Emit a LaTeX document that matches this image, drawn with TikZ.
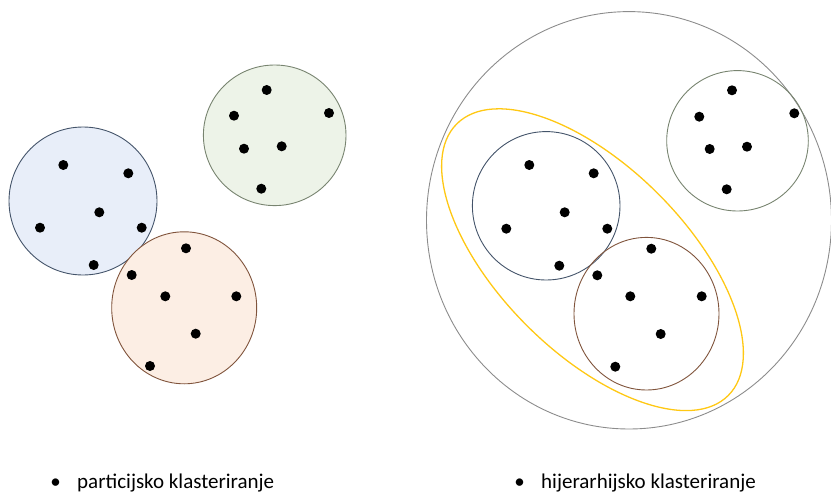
\documentclass[tikz,border=0pt]{standalone}
\usepackage{fontspec}
\setmainfont{Carlito}
\usepackage{tikz}
\usetikzlibrary{positioning}
\definecolor{clublue}{RGB}{68, 84, 106}
\definecolor{clubluefill}{RGB}{232, 238, 249}
\definecolor{clugreen}{RGB}{120, 132, 112}
\definecolor{clugreenfill}{RGB}{237, 243, 232}
\definecolor{clubrown}{RGB}{128, 84, 60}
\definecolor{clubrownfill}{RGB}{252, 238, 228}
\definecolor{clugray}{RGB}{140, 140, 140}
\definecolor{cluyellow}{RGB}{255, 200, 20}

\tikzset{
    cluster/.style={line width=0.9pt},
    dot/.style={fill=black},
    label/.style={font=\fontsize{21}{24}\selectfont, inner sep=0pt}
}

\begin{document}
\begin{tikzpicture}[x=1pt, y=-1pt]
    \useasboundingbox (0,0) rectangle (831,495);

    % Particijsko: three separate clusters
    \draw[cluster, draw=clublue, fill=clubluefill] (83,201) circle [x radius=74, y radius=74];
    \draw[cluster, draw=clugreen, fill=clugreenfill] (274.7,135.3) circle [x radius=71.3, y radius=70.3];
    \draw[cluster, draw=clubrown, fill=clubrownfill] (184.2,307.8) circle [x radius=72.5, y radius=76];

    \foreach \p in {(63.3,165), (128.3,173.3), (99.3,212.3), (40,227.7), (141.7,227.7), (93.7,265),
                    (266.7,90), (234,115.7), (329,113), (244,148.7), (281.7,146.3), (261.3,188.7),
                    (186,248.3), (131.7,275), (165.3,296.3), (236.3,296.3), (195.7,333.7), (150,366)} {
        \fill[dot] \p circle (5);
    }

    % Hijerarhijsko: nested clusters
    \draw[cluster, draw=clugray] (629,220.3) circle [x radius=202.5, y radius=208.7];
    \draw[cluster, line width=1.3pt, draw=cluyellow, rotate around={-45:(592.5,259.7)}] (592.5,259.7) ellipse [x radius=192, y radius=93];
    \draw[cluster, draw=clugreen] (737.5,140.8) circle [x radius=70.8, y radius=70.2];
    \draw[cluster, draw=clublue] (546.2,205.8) circle [x radius=73.8, y radius=74.2];
    \draw[cluster, draw=clubrown] (646.5,313.7) circle [x radius=72.5, y radius=76.3];

    \foreach \p in {(732,90.3), (699.3,116.7), (794.3,113.3), (709.7,149), (747,146.7), (726.7,189.3),
                    (529.3,165), (593.7,173.3), (564.7,212.3), (506.3,228.7), (607.3,228.7), (559.3,265.7),
                    (651.3,248.7), (597.3,275.3), (630.3,296.3), (701.7,296.3), (660.7,334), (615.3,366.7)} {
        \fill[dot] \p circle (5);
    }

    % Labels
    \node[label, anchor=base west] (part) at (77,488) {particijsko klasteriranje};
    \node[label, anchor=base east] (partbul) at (61,488) {•};
    \node[label, anchor=base west] (hier) at (541,488) {hijerarhijsko klasteriranje};
    \node[label, anchor=base east] (hierbul) at (525,488) {•};
\end{tikzpicture}
\end{document}
